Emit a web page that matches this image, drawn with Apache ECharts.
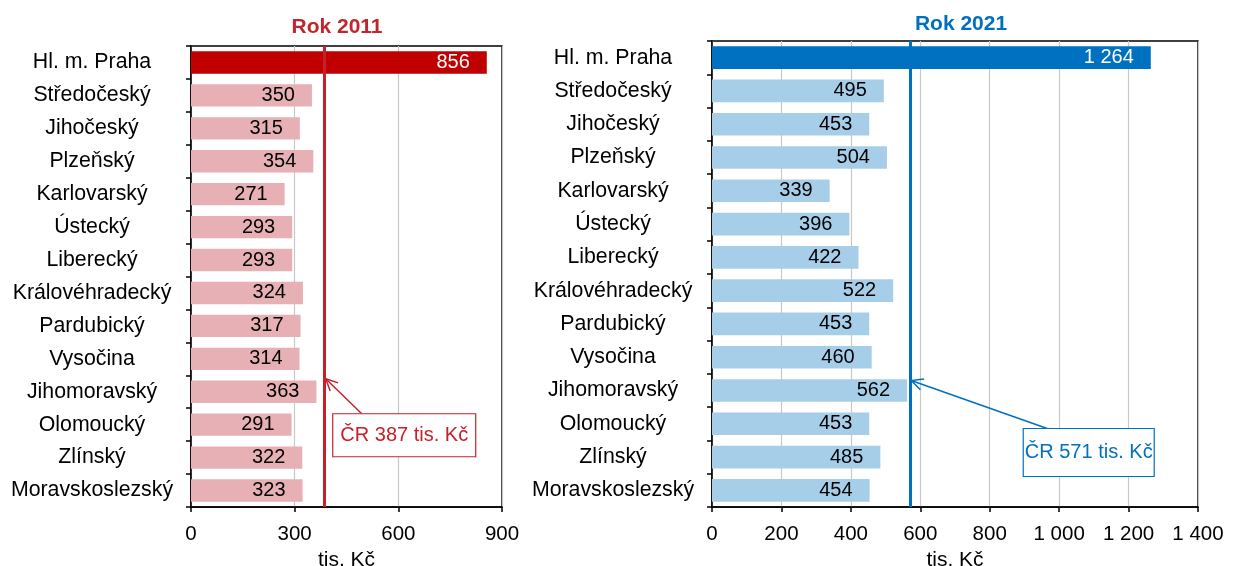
<!DOCTYPE html>
<html>
<head>
<meta charset="utf-8">
<script src="https://cdn.jsdelivr.net/npm/echarts@6/dist/echarts.min.js"></script>
<style>
  html, body { margin: 0; padding: 0; background: #fff; }
  #chart { width: 1247px; height: 566px; }
</style>
</head>
<body>
<div id="chart"></div>
<script>
const categories = ['Hl. m. Praha', 'Středočeský', 'Jihočeský', 'Plzeňský', 'Karlovarský', 'Ústecký', 'Liberecký',
  'Královéhradecký', 'Pardubický', 'Vysočina', 'Jihomoravský', 'Olomoucký', 'Zlínský', 'Moravskoslezský']
const values2011 = [856, 350, 315, 354, 271, 293, 293, 324, 317, 314, 363, 291, 322, 323]
const values2021 = [1264, 495, 453, 504, 339, 396, 422, 522, 453, 460, 562, 453, 485, 454]
const cr2011 = 387
const cr2021 = 571
const axis2011 = { min: 0, max: 900, interval: 300 }
const axis2021 = { min: 0, max: 1400, interval: 200 }

const FONT = 'Liberation Sans, Arial, sans-serif'
const RED = '#C0272D'
const BLUE = '#0070C0'

// mezery jako oddělovač tisíců
function fmt(v) {
  return String(v).replace(/\B(?=(\d{3})+(?!\d))/g, ' ')
}

function barData(values, topColor, color) {
  return values.map((v, i) => ({
    value: v,
    itemStyle: { color: i === 0 ? topColor : color },
    label: { color: i === 0 ? '#fff' : '#000' },
  }))
}

function xAxisOf(idx, ax, nameGap) {
  return {
    gridIndex: idx,
    type: 'value',
    min: ax.min,
    max: ax.max,
    interval: ax.interval,
    name: 'tis. Kč',
    nameLocation: 'middle',
    nameGap: nameGap,
    nameTextStyle: { color: '#000', fontSize: 21, fontFamily: FONT },
    axisLine: { show: true, lineStyle: { color: '#000', width: 1.5 } },
    axisTick: { show: true, length: 5, lineStyle: { color: '#000', width: 1.5 } },
    axisLabel: { color: '#000', fontSize: 20.5, fontFamily: FONT, margin: 17, formatter: (v) => fmt(v) },
    splitLine: { show: true, lineStyle: { color: '#C8C8C8', width: 1.2 } },
  }
}

function yAxisOf(idx) {
  return {
    gridIndex: idx,
    type: 'category',
    inverse: true,
    data: categories,
    axisLine: { show: true, lineStyle: { color: '#000', width: 1.5 } },
    axisTick: { show: true, length: 5, lineStyle: { color: '#000', width: 1.5 } },
    axisLabel: { color: '#000', fontSize: 21.3, fontFamily: FONT, align: 'center', margin: 99 },
    splitLine: { show: false },
  }
}

function seriesOf(idx, values, topColor, color, cr, lineColor) {
  return {
    type: 'bar',
    xAxisIndex: idx,
    yAxisIndex: idx,
    data: barData(values, topColor, color),
    barCategoryGap: '32%',
    label: {
      show: true,
      position: 'insideRight',
      distance: 17,
      fontSize: 20,
      fontFamily: FONT,
      formatter: (p) => fmt(p.value),
    },
    markLine: {
      silent: true,
      symbol: 'none',
      label: { show: false },
      lineStyle: { color: lineColor, width: 3, type: 'solid' },
      data: [{ xAxis: cr }],
    },
  }
}

const chart = echarts.init(document.getElementById('chart'))
chart.setOption({
  animation: false,
  title: [
    { text: 'Rok 2011', left: 332, top: 12, textAlign: 'center',
      textStyle: { color: RED, fontSize: 21, fontWeight: 'bold', fontFamily: FONT } },
    { text: 'Rok 2021', left: 956, top: 9, textAlign: 'center',
      textStyle: { color: BLUE, fontSize: 21, fontWeight: 'bold', fontFamily: FONT } },
  ],
  grid: [
    { left: 191, right: 745, top: 46, bottom: 59, show: true, borderColor: '#000', borderWidth: 1.5,
      containLabel: false, outerBoundsMode: 'none' },
    { left: 712, right: 49, top: 41, bottom: 59, show: true, borderColor: '#000', borderWidth: 1.5,
      containLabel: false, outerBoundsMode: 'none' },
  ],
  xAxis: [xAxisOf(0, axis2011, 37), xAxisOf(1, axis2021, 43)],
  yAxis: [yAxisOf(0), yAxisOf(1)],
  series: [
    seriesOf(0, values2011, '#C00000', '#E6B0B5', cr2011, '#C8202A'),
    seriesOf(1, values2021, '#0070C0', '#A7CEE9', cr2021, BLUE),
  ],
})

// popisek "ČR ..." se šipkou k čáře průměru
function note(idx, value, text, color, box) {
  const p = chart.convertToPixel({ xAxisIndex: idx, yAxisIndex: idx }, [value, 'Jihomoravský'])
  const tip = [p[0] + 1, p[1] + box.tipDy]
  const bx = p[0] + box.dx
  const by = p[1] + box.dy
  const start = [bx + box.arrowX, by]
  const ang = Math.atan2(start[1] - tip[1], start[0] - tip[0])
  const head = 13
  const spread = 0.45
  const h1 = [tip[0] + head * Math.cos(ang + spread), tip[1] + head * Math.sin(ang + spread)]
  const h2 = [tip[0] + head * Math.cos(ang - spread), tip[1] + head * Math.sin(ang - spread)]
  const ls = { stroke: color, lineWidth: 1.5 }
  return [
    { type: 'polyline', shape: { points: [start, tip] }, style: ls, z: 100 },
    { type: 'polyline', shape: { points: [h1, tip, h2] }, style: ls, z: 100 },
    { type: 'rect', shape: { x: bx, y: by, width: box.w, height: box.h },
      style: { fill: '#fff', stroke: color, lineWidth: 1.2 }, z: 100 },
    { type: 'text', x: bx + box.w / 2, y: by + box.h / 2, z: 101,
      style: { text: text, fill: color, font: '20px ' + FONT, align: 'center', verticalAlign: 'middle' } },
  ]
}

chart.setOption({
  graphic: [
    ...note(0, cr2011, 'ČR ' + cr2011 + ' tis. Kč', '#C8202A',
      { dx: 8, dy: 22, w: 143, h: 43, arrowX: 29, tipDy: -13 }),
    ...note(1, cr2021, 'ČR ' + cr2021 + ' tis. Kč', BLUE,
      { dx: 113, dy: 38, w: 131, h: 48, arrowX: 24, tipDy: -10 }),
  ],
})
</script>
</body>
</html>
